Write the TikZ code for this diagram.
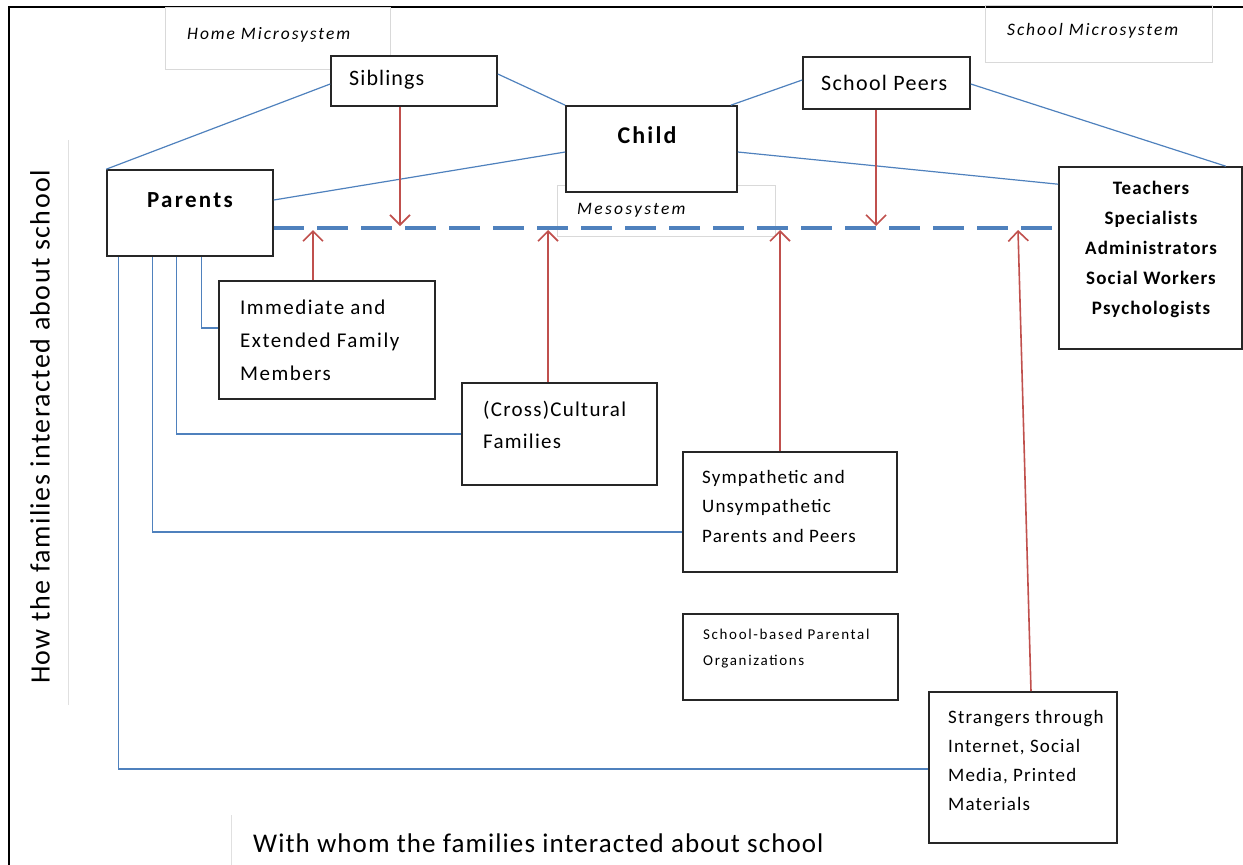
\documentclass[tikz,border=0pt]{standalone}
\usepackage{fontspec}
\setmainfont{Carlito}
\usetikzlibrary{arrows.meta,calc}
\definecolor{lblue}{HTML}{4F81BD}
\definecolor{lred}{HTML}{C0504D}
\newcommand{\lsp}[1]{\addfontfeatures{LetterSpace=#1}}
\begin{document}
\begin{tikzpicture}[x=1pt,y=-1pt,
  box/.style={draw=black!85, line width=1.6pt, fill=white, inner sep=0pt},
  gbox/.style={draw=black!15, line width=1pt, inner sep=0pt},
  lbl/.style={inner sep=0pt, align=left},
  bl/.style={draw=lblue, line width=1.2pt},
  rarrow/.style={draw=lred, line width=1.6pt, -{Straight Barb[length=10pt,width=20pt,line width=1.6pt]}},
  dashline/.style={draw=lblue, line width=3.5pt, dash pattern=on 31pt off 13pt}
]
\useasboundingbox (0,0) rectangle (1243,865);
% frame
\draw[line width=1.5pt] (9,865) -- (9,7) -- (1243,7);

% light gray label boxes
\node[gbox, minimum width=225pt, minimum height=62pt] (homebox) at (277.5,38) {};
\node[lbl, anchor=west, font=\fontsize{17.5}{20}\selectfont\itshape\lsp{11}] (home) at (187,35) {Home Microsystem};
\node[gbox, minimum width=227pt, minimum height=57pt] (schbox) at (1098.5,34) {};
\node[lbl, anchor=west, font=\fontsize{17.5}{20}\selectfont\itshape\lsp{11}] (schm) at (1007,31) {School Microsystem};
\node[gbox, minimum width=218pt, minimum height=51pt] (mesobox) at (666,210.5) {};
\node[lbl, anchor=west, font=\fontsize{17.5}{20}\selectfont\itshape\lsp{13}] (meso) at (577,210) {Mesosystem};

% side labels
\draw[draw=black!12, line width=1pt] (68,140) -- (68,705);
\node[inner sep=0pt, rotate=90, font=\fontsize{28}{32}\selectfont\lsp{5}] (howlbl) at (40,427) {How the families interacted about school};
\draw[draw=black!12, line width=1pt] (231,815) -- (231,865);
\node[inner sep=0pt, anchor=west, font=\fontsize{27}{30}\selectfont\lsp{4}] (whomlbl) at (253,843) {With whom the families interacted about school};

% dashed mesosystem line
\coordinate (dl) at (273,228);
\coordinate (dr) at (1053,228);
\draw[dashline] (dl) -- (dr);

% main boxes
\node[box, minimum width=166pt, minimum height=50pt] (sib) at (414,81) {};
\node[lbl, anchor=west, font=\fontsize{22}{24}\selectfont\lsp{5}] (sibt) at (349,80) {Siblings};
\node[box, minimum width=167pt, minimum height=52pt] (peer) at (886.5,83) {};
\node[lbl, anchor=west, font=\fontsize{22}{24}\selectfont\lsp{6}] (peert) at (821,83) {School Peers};
\node[box, minimum width=171pt, minimum height=86pt] (child) at (651.5,149) {};
\node[lbl, font=\fontsize{24}{28}\selectfont\bfseries\lsp{9}] (childt) at (647,135) {Child};
\node[box, minimum width=166pt, minimum height=86pt] (par) at (190,213) {};
\node[lbl, font=\fontsize{23}{28}\selectfont\bfseries\lsp{10}] (part) at (190,200) {Parents};
\node[box, minimum width=183pt, minimum height=182pt] (tea) at (1150.5,258) {};
\node[inner sep=0pt, align=center, font=\fontsize{19}{30}\selectfont\bfseries\lsp{6}] (teat) at (1151,249) {Teachers\\Specialists\\Administrators\\Social Workers\\Psychologists};

\node[box, minimum width=216pt, minimum height=118pt] (imm) at (327,340) {};
\node[lbl, anchor=west, font=\fontsize{21}{33}\selectfont\lsp{7}] (immt) at (240,340) {Immediate and\\Extended Family\\Members};
\node[box, minimum width=195pt, minimum height=102pt] (cross) at (559.5,434) {};
\node[lbl, anchor=west, font=\fontsize{21}{32}\selectfont\lsp{6}] (crosst) at (483,425) {(Cross)Cultural\\Families};
\node[box, minimum width=214pt, minimum height=120pt] (sym) at (790,512) {};
\node[lbl, anchor=west, font=\fontsize{19}{29.5}\selectfont\lsp{6}] (symt) at (702,506) {Sympathetic and\\Unsympathetic\\Parents and Peers};
\node[box, minimum width=215pt, minimum height=86pt] (sbp) at (790.5,657) {};
\node[lbl, anchor=west, font=\fontsize{15}{26}\selectfont\lsp{11}] (sbpt) at (703,649) {School-based Parental\\Organizations};
\node[box, minimum width=188pt, minimum height=151pt] (str) at (1023,767.5) {};
\node[lbl, anchor=west, font=\fontsize{19}{29}\selectfont\lsp{6}] (strt) at (948,760) {Strangers through\\Internet, Social\\Media, Printed\\Materials};

% blue connectors
\draw[bl] (par.north west) -- ([yshift=-3pt]sib.west);
\draw[bl] ([yshift=7pt]sib.east) -- (child.north west);
\draw[bl] ([yshift=-3pt]child.west) -- ([yshift=13pt]par.east);
\draw[bl] ([yshift=3pt]peer.west) -- ([xshift=-7pt]child.north east);
\draw[bl] ([yshift=-1pt]peer.east) -- ([xshift=-17pt]tea.north east);
\draw[bl] ([yshift=-3pt]child.east) -- ([yshift=-18pt]tea.north west);
\draw[bl] ([xshift=95pt]par.south west) |- ([yshift=12pt]imm.west);
\draw[bl] ([xshift=70pt]par.south west) |- (cross.west);
\draw[bl] ([xshift=46pt]par.south west) |- ([yshift=-20pt]sym.west);
\draw[bl] ([xshift=12pt]par.south west) |- ([yshift=-1.5pt]str.west);

% red arrows
\coordinate (a1) at (400,226);
\coordinate (a2) at (876,226);
\coordinate (a3) at (313,230);
\coordinate (a4) at (548,230);
\coordinate (a5) at (780,230);
\coordinate (a6) at (1018,230);
\draw[rarrow] ([xshift=-14pt]sib.south) -- (a1);
\draw[rarrow] ([xshift=-10.5pt]peer.south) -- (a2);
\draw[rarrow] ([xshift=-14pt]imm.north) -- (a3);
\draw[rarrow] ([xshift=-11.5pt]cross.north) -- (a4);
\draw[rarrow] ([xshift=-10pt]sym.north) -- (a5);
\draw[rarrow] ([xshift=8pt]str.north) -- (a6);
\end{tikzpicture}
\end{document}
